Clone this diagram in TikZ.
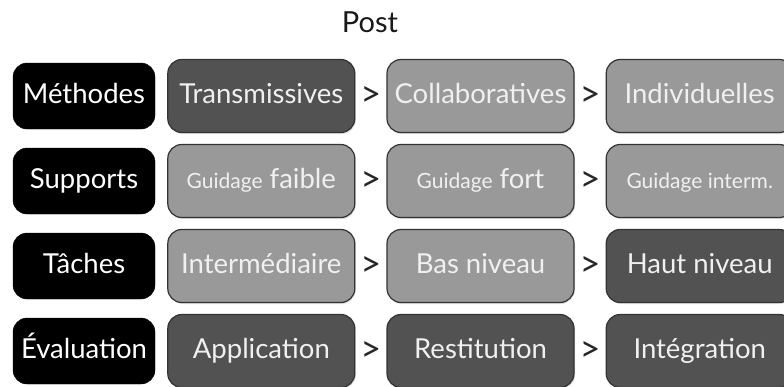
\documentclass[tikz,border=0pt]{standalone}
\usepackage{fontspec}
\setmainfont{Lato}
\usetikzlibrary{positioning,shadows}
\newcommand{\petit}[1]{{\fontsize{21}{24}\selectfont #1}}

\tikzset{
  lab/.style={draw=black, fill=black, rounded corners=14pt, minimum width=142pt,
    minimum height=66pt, inner sep=1pt, text=white, text height=20pt, text depth=5pt,
    font=\fontsize{27.5}{32}\selectfont},
  cell/.style={draw=black!80, line width=1.2pt, rounded corners=14pt, minimum width=187pt,
    minimum height=73pt, inner sep=1pt, text=white!94!black, text height=20pt, text depth=5pt,
    font=\fontsize{27.5}{32}\selectfont,
    drop shadow={opacity=0.25, shadow xshift=1pt, shadow yshift=-1.5pt}},
  dark/.style={cell, fill=black!68},
  light/.style={cell, fill=black!40},
  gt/.style={font=\fontsize{36}{40}\selectfont, text=black!85},
  titre/.style={font=\fontsize{29}{34}\selectfont, text=black!90}
}

\begin{document}
\begin{tikzpicture}[x=1pt, y=-1pt, node distance=31pt]
  \useasboundingbox (0,0) rectangle (784,386);
  \node[titre] (post) at (370,22) {Post};
  % Methodes
  \node[lab] (m) at (84,96) {Méthodes};
  \node[dark, right=12pt of m] (m1) {Transmissives};
  \node[light, right=of m1] (m2) {Collaboratives};
  \node[light, right=of m2] (m3) {Individuelles};
  \path (m1) -- node[gt] {>} (m2) (m2) -- node[gt] {>} (m3);
  % Supports
  \node[lab] (s) at (84,181) {Supports};
  \node[light, right=12pt of s] (s1) {\petit{Guidage} faible};
  \node[light, right=of s1] (s2) {\petit{Guidage} fort};
  \node[light, right=of s2] (s3) {\petit{Guidage interm.}};
  \path (s1) -- node[gt] {>} (s2) (s2) -- node[gt] {>} (s3);
  % Taches
  \node[lab] (t) at (84,266) {Tâches};
  \node[light, right=12pt of t] (t1) {Intermédiaire};
  \node[light, right=of t1] (t2) {Bas niveau};
  \node[dark, right=of t2] (t3) {Haut niveau};
  \path (t1) -- node[gt] {>} (t2) (t2) -- node[gt] {>} (t3);
  % Evaluation
  \node[lab] (e) at (84,351) {Évaluation};
  \node[dark, right=12pt of e] (e1) {Application};
  \node[dark, right=of e1] (e2) {Restitution};
  \node[dark, right=of e2] (e3) {Intégration};
  \path (e1) -- node[gt] {>} (e2) (e2) -- node[gt] {>} (e3);
\end{tikzpicture}
\end{document}
